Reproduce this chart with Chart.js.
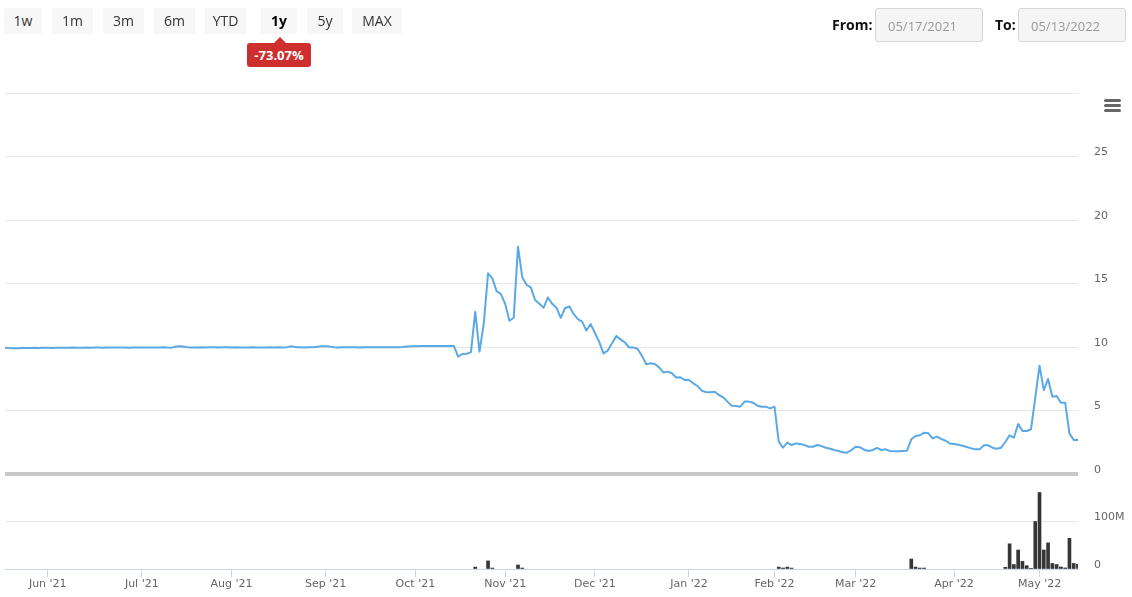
<!DOCTYPE html>
<html>
<head>
<meta charset="utf-8">
<title>Price and volume, 1y</title>
<script src="https://cdn.jsdelivr.net/npm/chart.js@4.4.1/dist/chart.umd.min.js"></script>
<style>
  html, body { margin: 0; padding: 0; background: #fff; }
  body { width: 1132px; height: 597px; position: relative; overflow: hidden; font-family: "Open Sans", sans-serif; }
  #chart { position: absolute; left: 0; top: 0; }
  .rs-btn { position: absolute; top: 8px; height: 26px; line-height: 26px; background: #f7f7f7; color: #333; font-size: 14px; text-align: center; }
  .rs-btn.active { font-weight: 700; color: #000; }
  .badge { position: absolute; left: 247px; top: 43px; width: 64px; height: 24px; line-height: 24px; background: #cd2f2f; color: #fff;
           font-weight: 700; font-size: 13px; text-align: center; border-radius: 3px; }
  .badge:before { content: ""; position: absolute; left: 27px; top: -6px; border-left: 6px solid transparent; border-right: 6px solid transparent; border-bottom: 6px solid #cd2f2f; }
  .lbl { position: absolute; top: 15px; font-size: 14px; font-weight: 700; color: #111; }
  .date { position: absolute; top: 8px; width: 108px; height: 34px; line-height: 34px; background: #f5f5f5; border: 1px solid #d6d6d6;
          border-radius: 3px; color: #999; font-size: 13px; padding-left: 12px; box-sizing: border-box; }
  .menu span { position: absolute; left: 1104px; width: 17px; height: 3px; background: #666; border-radius: 1.5px; }
</style>
</head>
<body>
<canvas id="chart" width="1132" height="597"></canvas>

<div class="rs-btn" style="left:4px;width:38px">1w</div>
<div class="rs-btn" style="left:52px;width:41px">1m</div>
<div class="rs-btn" style="left:103px;width:41px">3m</div>
<div class="rs-btn" style="left:154px;width:41px">6m</div>
<div class="rs-btn" style="left:205px;width:41px">YTD</div>
<div class="rs-btn active" style="left:261px;width:36px">1y</div>
<div class="rs-btn" style="left:307px;width:36px">5y</div>
<div class="rs-btn" style="left:352px;width:50px">MAX</div>
<div class="badge">-73.07%</div>

<div class="lbl" style="left:832px">From:</div>
<div class="date" style="left:875px">05/17/2021</div>
<div class="lbl" style="left:995px">To:</div>
<div class="date" style="left:1018px">05/13/2022</div>

<div class="menu"><span style="top:99px"></span><span style="top:104px"></span><span style="top:109px"></span></div>

<script>
// trading calendar
const firstDay = "2021-05-17";
const lastDay = "2022-05-13";
const marketHolidays = ["2021-05-31", "2021-07-05", "2021-09-06", "2021-11-25", "2021-12-24",
                        "2022-01-17", "2022-02-21", "2022-04-15"];
const monthNames = ["Jan", "Feb", "Mar", "Apr", "May", "Jun", "Jul", "Aug", "Sep", "Oct", "Nov", "Dec"];

// closing price per trading day, by month
const priceMay21 = [9.95, 9.92, 9.90, 9.91, 9.92, 9.93, 9.93, 9.94, 9.93, 9.95];
const priceJun21 = [9.94, 9.93, 9.95, 9.94, 9.95, 9.95, 9.96, 9.95, 9.94, 9.96, 9.95,
                    9.96, 9.96, 9.95, 9.97, 9.96, 9.96, 9.97, 9.96, 9.95, 9.96, 9.97];
const priceJul21 = [9.96, 9.97, 9.97, 9.96, 9.97, 9.98, 9.96, 9.95, 10.04, 10.06, 10.02,
                    9.97, 9.97, 9.96, 9.98, 9.97, 9.98, 9.99, 9.97, 9.98, 9.98];
const priceAug21 = [9.97, 9.98, 9.97, 9.96, 9.97, 9.98, 9.97, 9.96, 9.97, 9.98, 9.97,
                    9.98, 9.97, 9.99, 10.06, 9.99, 9.98, 9.97, 9.99, 9.98, 10.02, 10.05];
const priceSep21 = [10.05, 10.03, 9.98, 9.97, 9.98, 9.99, 9.98, 9.98, 9.97, 9.98, 9.99,
                    9.98, 9.99, 9.98, 9.99, 9.99, 9.98, 9.99, 10.0, 10.04, 10.06];
const priceOct21 = [10.06, 10.07, 10.07, 10.07, 10.07, 10.07, 10.07, 10.07, 10.07, 10.08, 9.24,
                    9.45, 9.47, 9.6, 12.78, 9.63, 11.86, 15.8, 15.4, 14.4, 14.17];
const priceNov21 = [13.4, 12.07, 12.3, 17.9, 15.5, 14.9, 14.7, 13.7, 13.4, 13.1, 13.9,
                    13.4, 13.1, 12.3, 13.05, 13.2, 12.6, 12.2, 12.0, 11.3, 11.8];
const priceDec21 = [11.1, 10.4, 9.5, 9.72, 10.3, 10.87, 10.6, 10.37, 9.96, 9.97, 9.84,
                    9.3, 8.64, 8.72, 8.66, 8.4, 8.0, 8.06, 7.93, 7.6, 7.61, 7.4];
const priceJan22 = [7.4, 7.14, 6.93, 6.56, 6.46, 6.43, 6.48, 6.22, 6.04, 5.7,
                    5.38, 5.35, 5.3, 5.7, 5.7, 5.61, 5.38, 5.3, 5.3, 5.17];
const priceFeb22 = [5.3, 2.55, 2.07, 2.47, 2.28, 2.41, 2.36, 2.28, 2.15, 2.15,
                    2.28, 2.2, 2.07, 1.99, 1.89, 1.81, 1.71, 1.68, 1.89];
const priceMar22 = [2.15, 2.1, 1.91, 1.81, 1.89, 2.05, 1.89, 1.94, 1.81, 1.79, 1.79, 1.81,
                    1.83, 2.73, 2.99, 3.05, 3.25, 3.2, 2.8, 2.94, 2.76, 2.62, 2.41];
const priceApr22 = [2.36, 2.31, 2.23, 2.13, 2.02, 1.94, 1.94, 2.26, 2.26, 2.07,
                    1.99, 2.07, 2.52, 3.05, 2.86, 3.94, 3.39, 3.39, 3.52, 6.0];
const priceMay22 = [8.53, 6.61, 7.48, 6.09, 6.14, 5.62, 5.62, 3.2, 2.68, 2.68];

// volume in millions, only days with a visible bar
const volumeDays = ["2021-10-21", "2021-10-26", "2021-10-27", "2021-11-04", "2021-11-05",
                    "2022-02-02", "2022-02-03", "2022-02-04", "2022-02-07",
                    "2022-03-18", "2022-03-21", "2022-03-22", "2022-03-23",
                    "2022-04-20", "2022-04-21", "2022-04-22", "2022-04-25", "2022-04-26",
                    "2022-04-27", "2022-04-28", "2022-04-29", "2022-05-02", "2022-05-03",
                    "2022-05-04", "2022-05-05", "2022-05-06", "2022-05-09", "2022-05-10",
                    "2022-05-11", "2022-05-12", "2022-05-13"];
const volumeValues = [4, 17, 2, 8.5, 2,
                      4, 2, 4, 2,
                      21, 4, 2, 2,
                      3.6, 53, 9.4, 40, 16,
                      7, 1.5, 100, 161, 40,
                      55, 11.6, 9.4, 4.3, 2.2,
                      64.5, 11.6, 10];

const priceTicks = [0, 5, 10, 15, 20, 25];   // 30 is the top, unlabeled
const volumeTicks = { 0: "0", 100: "100M" };

const LINE_COLOR = "#5aa9e6";
const BAR_COLOR = "#363636";
const GRID_COLOR = "#e6e6e6";
const AXIS_COLOR = "#ccd6eb";
const LABEL_COLOR = "#666666";

function tradingDays(from, to, skip) {
    const out = [];
    const d = new Date(from + "T00:00:00Z");
    const end = new Date(to + "T00:00:00Z");
    while (d <= end) {
        const iso = d.toISOString().slice(0, 10);
        const wd = d.getUTCDay();
        if (wd !== 0 && wd !== 6 && !skip.includes(iso)) {
            out.push(iso);
        }
        d.setUTCDate(d.getUTCDate() + 1);
    }
    return out;
}

const days = tradingDays(firstDay, lastDay, marketHolidays);
const prices = [].concat(priceMay21, priceJun21, priceJul21, priceAug21, priceSep21, priceOct21,
                         priceNov21, priceDec21, priceJan22, priceFeb22, priceMar22, priceApr22, priceMay22);
const monthStarts = days.map((d, i) => i).filter((i) => i > 0 && days[i].slice(0, 7) !== days[i - 1].slice(0, 7));

function monthLabel(iso) {
    return monthNames[Number(iso.slice(5, 7)) - 1] + " '" + iso.slice(2, 4);
}

// grey band between the price and volume panes
const paneSeparator = {
    id: "paneSeparator",
    beforeDatasetsDraw(chart) {
        const { ctx, chartArea } = chart;
        const y = chart.scales.y.getPixelForValue(0);
        ctx.save();
        ctx.fillStyle = "#c8c8c8";
        ctx.fillRect(chartArea.left, y - 2, chartArea.right - chartArea.left, 4);
        ctx.restore();
    },
};

Chart.defaults.font.family = "'DejaVu Sans', sans-serif";
Chart.defaults.font.size = 11;

const rightAxis = (extra) => Object.assign({
    position: "right",
    stack: "panes",
    border: { display: false },
    grid: { color: GRID_COLOR, drawTicks: false },
    afterFit: (axis) => { axis.width = 54; },
}, extra);

new Chart(document.getElementById("chart"), {
    data: {
        labels: days,
        datasets: [
            {
                type: "line",
                data: prices,
                yAxisID: "y",
                borderColor: LINE_COLOR,
                borderWidth: 2,
                borderJoinStyle: "round",
                pointRadius: 0,
                tension: 0,
                order: 1,
            },
            {
                type: "bar",
                data: volumeDays.map((d, i) => ({ x: d, y: volumeValues[i] })),
                yAxisID: "yv",
                backgroundColor: BAR_COLOR,
                barThickness: 3,
                order: 2,
            },
        ],
    },
    options: {
        responsive: false,
        animation: false,
        layout: { padding: { top: 93, left: 5, right: 0, bottom: 0 } },
        plugins: { legend: { display: false }, tooltip: { enabled: false } },
        scales: {
            x: {
                type: "category",
                offset: false,
                grid: { offset: false, drawOnChartArea: false, color: AXIS_COLOR, tickLength: 8 },
                border: { color: AXIS_COLOR },
                afterBuildTicks: (axis) => { axis.ticks = monthStarts.map((i) => ({ value: i })); },
                afterFit: (axis) => { axis.height = 28; },
                ticks: {
                    autoSkip: false,
                    maxRotation: 0,
                    padding: 1,
                    color: LABEL_COLOR,
                    callback: (value) => monthLabel(days[value]),
                },
            },
            y: rightAxis({
                stackWeight: 381,
                min: 0,
                max: 30,
                ticks: {
                    stepSize: 5,
                    padding: 16,
                    labelOffset: -4,
                    color: LABEL_COLOR,
                    callback: (v) => (priceTicks.includes(v) ? String(v) : ""),
                },
            }),
            yv: rightAxis({
                stackWeight: 95,
                min: 0,
                max: 200,
                ticks: {
                    stepSize: 100,
                    padding: 16,
                    labelOffset: -4,
                    color: LABEL_COLOR,
                    callback: (v) => volumeTicks[v] || "",
                },
            }),
        },
    },
    plugins: [paneSeparator],
});
</script>
</body>
</html>
